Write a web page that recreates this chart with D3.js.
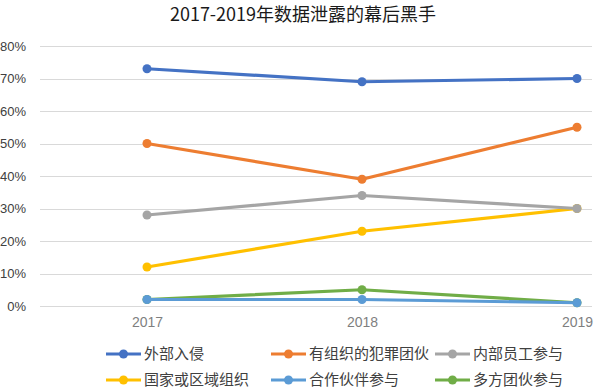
<!DOCTYPE html>
<html>
<head>
  <meta charset="utf-8">
  <script src="https://d3js.org/d3.v7.min.js"></script>
  <style>
    body { margin: 0; background: #fff; }
    svg { display: block; font-family: "Noto Sans CJK SC", "Noto Sans", sans-serif; }
    .grid line { stroke: #d9d9d9; stroke-width: 1px; shape-rendering: crispEdges; }
    .grid path { display: none; }
    .y-axis text { fill: #404040; font-size: 13px; }
    .x-axis text { fill: #7f7f7f; font-size: 14px; }
    .legend text { fill: #404040; font-size: 15px; }
  </style>
</head>
<body>
<div id="chart"></div>
<script>
// data
var years = ["2017", "2018", "2019"];
var seriesNames = ["外部入侵", "有组织的犯罪团伙", "内部员工参与", "国家或区域组织", "合作伙伴参与", "多方团伙参与"];
var waibu = [73, 69, 70];
var zuzhi = [50, 39, 55];
var neibu = [28, 34, 30];
var guojia = [12, 23, 30];
var hezuo = [2, 2, 1];
var duofang = [2, 5, 1];
var yTicks = [0, 10, 20, 30, 40, 50, 60, 70, 80];
var colors = ["#4472C4", "#ED7D31", "#A5A5A5", "#FFC000", "#5B9BD5", "#70AD47"];

var seriesValues = [waibu, zuzhi, neibu, guojia, hezuo, duofang];
var series = seriesNames.map(function(name, i) {
  return { name: name, color: colors[i], values: seriesValues[i] };
});

var width = 600, height = 391;
var plotLeft = 40, plotRight = 592, plotTop = 46, plotBottom = 306;

var svg = d3.select("#chart").append("svg")
  .attr("width", width)
  .attr("height", height);

// title
svg.append("text")
  .attr("x", 303)
  .attr("y", 21)
  .attr("text-anchor", "middle")
  .style("font-size", "18px")
  .style("fill", "#1a1a1a")
  .text("2017-2019年数据泄露的幕后黑手");

var x = d3.scalePoint().domain(years).range([147, 577]);
var y = d3.scaleLinear().domain([0, 80]).range([plotBottom, plotTop]);

// gridlines
svg.append("g")
  .attr("class", "grid")
  .attr("transform", "translate(" + plotLeft + ",0)")
  .call(d3.axisLeft(y).tickValues(yTicks).tickSize(-(plotRight - plotLeft)).tickFormat(""));

// y labels
svg.append("g")
  .attr("class", "y-axis")
  .attr("transform", "translate(29,0)")
  .call(d3.axisLeft(y).tickValues(yTicks).tickSize(0).tickFormat(function(d) { return d + "%"; }))
  .call(function(g) { g.select(".domain").remove(); });

// x labels
svg.append("g")
  .attr("class", "x-axis")
  .attr("transform", "translate(0," + (plotBottom + 8) + ")")
  .call(d3.axisBottom(x).tickSize(0))
  .call(function(g) { g.select(".domain").remove(); });

var line = d3.line()
  .x(function(d, i) { return x(years[i]); })
  .y(function(d) { return y(d); });

// draw bottom series last-to-first so the blue ones sit on top like the picture
var order = [5, 4, 3, 2, 1, 0];
order.forEach(function(k) {
  var s = series[k];
  var g = svg.append("g");
  g.append("path")
    .datum(s.values)
    .attr("fill", "none")
    .attr("stroke", s.color)
    .attr("stroke-width", 3.2)
    .attr("stroke-linejoin", "round")
    .attr("d", line);
  g.selectAll("circle")
    .data(s.values)
    .enter().append("circle")
    .attr("cx", function(d, i) { return x(years[i]); })
    .attr("cy", function(d) { return y(d); })
    .attr("r", 4.5)
    .attr("fill", s.color);
});

// legend
var legendCols = [106, 271, 435];
var legendRows = [354, 380];
var legend = svg.append("g").attr("class", "legend");
series.forEach(function(s, i) {
  var lx = legendCols[i % 3], ly = legendRows[Math.floor(i / 3)];
  var item = legend.append("g").attr("transform", "translate(" + lx + "," + ly + ")");
  item.append("line")
    .attr("x1", 0).attr("x2", 35)
    .attr("y1", 0).attr("y2", 0)
    .attr("stroke", s.color)
    .attr("stroke-width", 3.2);
  item.append("circle")
    .attr("cx", 17.5).attr("cy", 0).attr("r", 4.5)
    .attr("fill", s.color);
  item.append("text")
    .attr("x", 38)
    .attr("y", 0)
    .attr("dy", "0.36em")
    .text(s.name);
});
</script>
</body>
</html>
